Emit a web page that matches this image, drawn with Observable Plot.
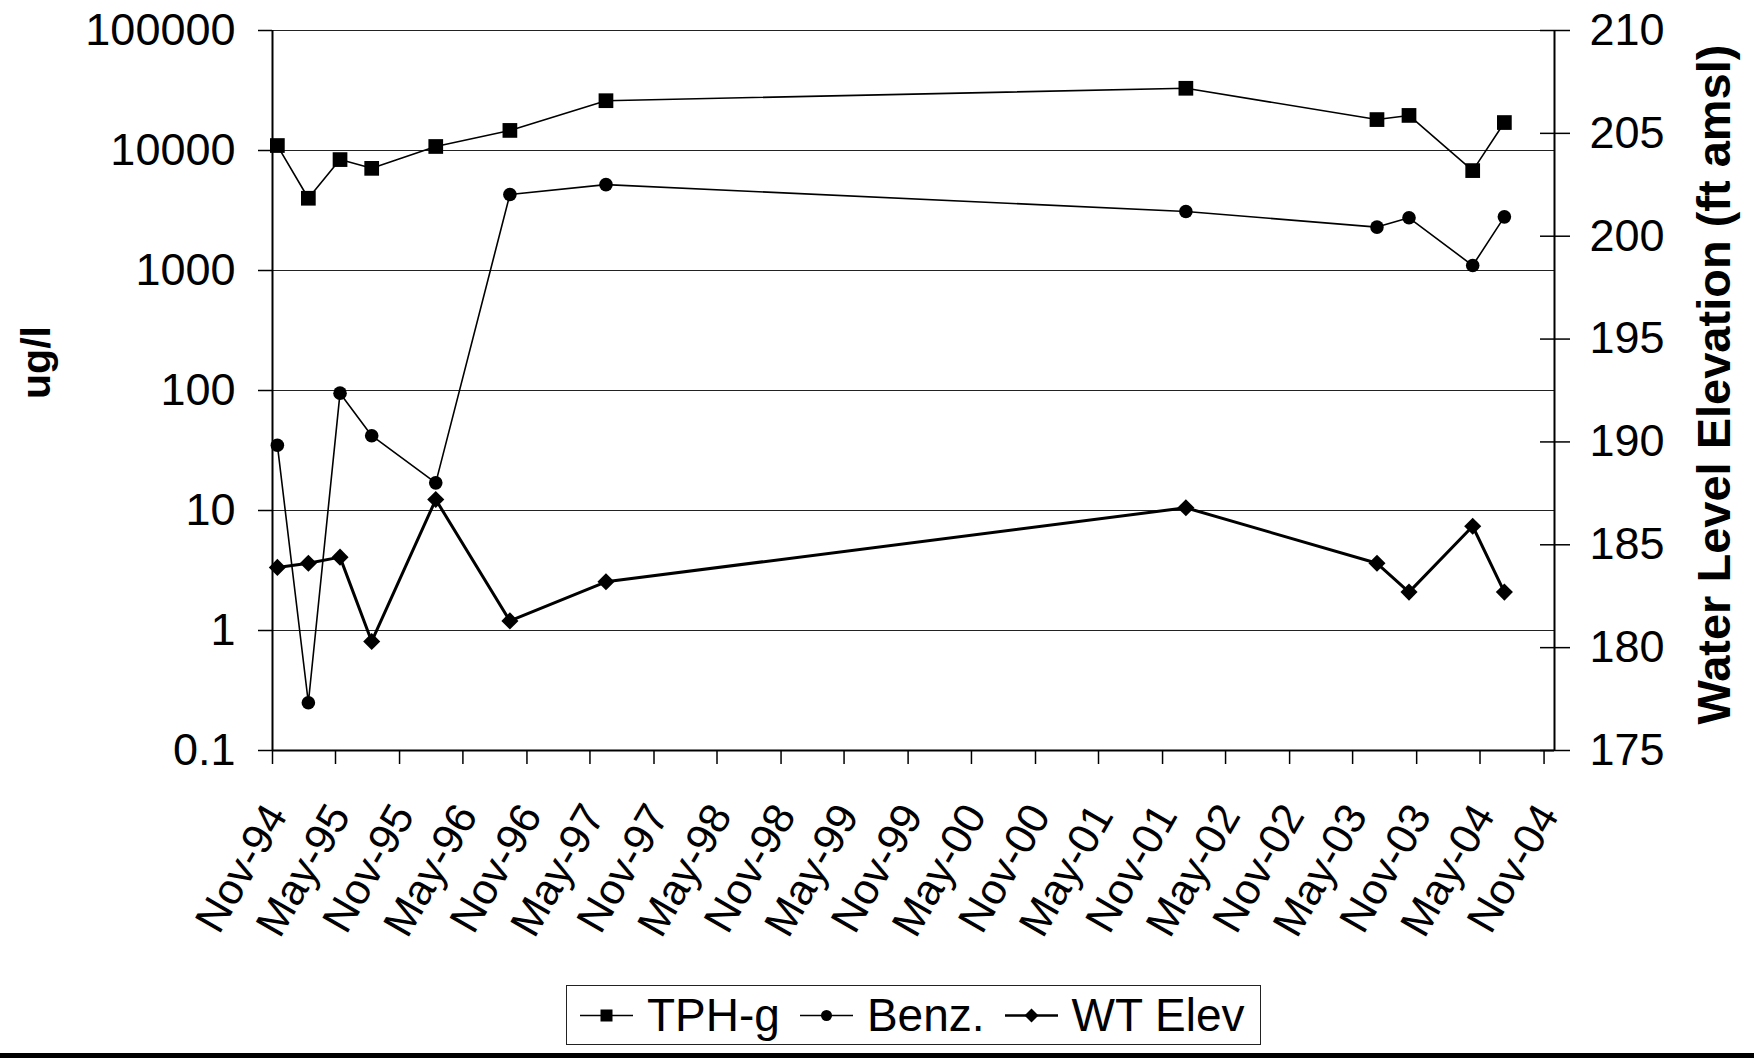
<!DOCTYPE html>
<html>
<head>
<meta charset="utf-8">
<script src="https://cdn.jsdelivr.net/npm/d3@7"></script>
<script src="https://cdn.jsdelivr.net/npm/@observablehq/plot@0.6"></script>
<style>
  html, body { margin: 0; padding: 0; background: #fff; }
  #wrap { position: relative; width: 1754px; height: 1060px; overflow: hidden;
          font-family: "Liberation Sans", Arial, Helvetica, sans-serif; color: #000; }
  .layer { position: absolute; left: 0; top: 0; }
  #legend { position: absolute; left: 566px; top: 985px; width: 695px; height: 60px;
            border: 1.5px solid #222; box-sizing: border-box; display: flex; align-items: center;
            padding-left: 13px; font-size: 46px; line-height: 1; white-space: nowrap; }
  #legend .item { display: flex; align-items: center; margin-right: 20px; flex-shrink: 0; white-space: nowrap; }
  #legend .item svg { margin-right: 14px; display: block; flex-shrink: 0; }
  #rule { position: absolute; left: 0; top: 1053px; width: 1754px; height: 5px; background: #000; }
</style>
</head>
<body>
<div id="wrap">
  <div id="chartA" class="layer"></div>
  <div id="chartB" class="layer"></div>
  <div id="legend"></div>
  <div id="rule"></div>
</div>
<script>
// ---- data ----
const sampleDates = ["1994-11-15", "1995-02-12", "1995-05-14", "1995-08-13", "1996-02-13", "1996-09-13",
                     "1997-06-16", "2002-01-07", "2003-07-10", "2003-10-10", "2004-04-10", "2004-07-10"];
const tphG   = [11000, 4000, 8400, 7100, 10800, 14700, 26000, 33000, 18100, 19600, 6800, 17100];
const benz   = [35, 0.25, 95, 42, 17, 4300, 5200, 3100, 2300, 2750, 1100, 2800];
const wtElev = [183.9, 184.1, 184.4, 180.3, 187.2, 181.3, 183.2, 186.8, 184.1, 182.7, 185.9, 182.7];

const tickDates  = ["1994-11-01", "1995-05-01", "1995-11-01", "1996-05-01", "1996-11-01", "1997-05-01",
                    "1997-11-01", "1998-05-01", "1998-11-01", "1999-05-01", "1999-11-01", "2000-05-01",
                    "2000-11-01", "2001-05-01", "2001-11-01", "2002-05-01", "2002-11-01", "2003-05-01",
                    "2003-11-01", "2004-05-01", "2004-11-01"];
const tickLabels = ["Nov-94", "May-95", "Nov-95", "May-96", "Nov-96", "May-97", "Nov-97", "May-98",
                    "Nov-98", "May-99", "Nov-99", "May-00", "Nov-00", "May-01", "Nov-01", "May-02",
                    "Nov-02", "May-03", "Nov-03", "May-04", "Nov-04"];
const xDomainStr = ["1994-11-01", "2004-12-01"];

const concTicks  = [0.1, 1, 10, 100, 1000, 10000, 100000];
const concLabels = ["0.1", "1", "10", "100", "1000", "10000", "100000"];
const elevTicks  = [175, 180, 185, 190, 195, 200, 205, 210];
const elevDomain = [175, 210];
const concDomain = [0.1, 100000];

const seriesNames = ["TPH-g", "Benz.", "WT Elev"];
const leftTitle  = "ug/l";
const rightTitle = "Water Level Elevation (ft amsl)";

// ---- build tables ----
const parse = d3.utcParse("%Y-%m-%d");
const rows = sampleDates.map((d, i) => ({date: parse(d), tph: tphG[i], benz: benz[i], wt: wtElev[i]}));
const ticks = tickDates.map((d, i) => ({date: parse(d), label: tickLabels[i]}));
const xDomain = xDomainStr.map(parse);

const font = '"Liberation Sans", Arial, Helvetica, sans-serif';
const dims = {width: 1754, height: 960, marginTop: 30, marginRight: 200, marginBottom: 210, marginLeft: 272};
const style = {fontFamily: font, fontSize: "45px", background: "transparent", color: "#000", overflow: "visible"};

const chartA = Plot.plot({
  ...dims,
  style,
  x: {type: "utc", domain: xDomain},
  y: {type: "log", domain: concDomain},
  marks: [
    Plot.ruleY(concTicks, {stroke: "#222", strokeWidth: 1.2}),
    Plot.ruleX(xDomain, {stroke: "#000", strokeWidth: 2}),
    Plot.ruleY([concDomain[0]], {stroke: "#000", strokeWidth: 2}),
    Plot.axisY({ticks: concTicks, tickFormat: d => concLabels[concTicks.indexOf(d)], tickSize: 14,
                tickPadding: 23, fontSize: 45, label: null, strokeWidth: 1.5}),
    Plot.axisX({ticks: ticks.map(t => t.date), tickFormat: () => "", tickSize: 14, label: null, strokeWidth: 1.5}),
    Plot.text(ticks, {x: "date", text: "label", frameAnchor: "bottom", dx: 4, dy: 58, rotate: -60,
                      textAnchor: "end", lineAnchor: "middle", fontSize: 43}),
    Plot.text([leftTitle], {text: d => d, frameAnchor: "left", dx: -236, dy: -28, rotate: -90,
                            textAnchor: "middle", fontWeight: "bold", fontSize: 41}),
    Plot.line(rows, {x: "date", y: "tph", stroke: "#000", strokeWidth: 1.6}),
    Plot.dot(rows, {x: "date", y: "tph", symbol: "square", r: 8.3, fill: "#000", stroke: null}),
    Plot.line(rows, {x: "date", y: "benz", stroke: "#000", strokeWidth: 1.6}),
    Plot.dot(rows, {x: "date", y: "benz", symbol: "circle", r: 6.8, fill: "#000", stroke: null})
  ]
});
document.getElementById("chartA").appendChild(chartA);

const chartB = Plot.plot({
  ...dims,
  style,
  x: {type: "utc", domain: xDomain, axis: null},
  y: {domain: elevDomain},
  marks: [
    Plot.axisY({anchor: "right", ticks: elevTicks, tickSize: 30, dx: -15, tickPadding: 20,
                fontSize: 45, label: null, strokeWidth: 1.5}),
    Plot.text([rightTitle], {text: d => d, frameAnchor: "right", dx: 160, dy: -6, rotate: -90,
                             textAnchor: "middle", fontWeight: "bold", fontSize: 47}),
    Plot.line(rows, {x: "date", y: "wt", stroke: "#000", strokeWidth: 3}),
    Plot.dot(rows, {x: "date", y: "wt", symbol: "diamond2", r: 7.7, fill: "#000", stroke: null})
  ]
});
document.getElementById("chartB").appendChild(chartB);

// ---- legend ----
const glyphs = {
  "TPH-g": '<rect x="20.5" y="4.5" width="12" height="12" fill="#000"/>',
  "Benz.": '<circle cx="26.5" cy="10.5" r="5.5" fill="#000"/>',
  "WT Elev": '<polygon points="26.5,3.5 33.5,10.5 26.5,17.5 19.5,10.5" fill="#000"/>'
};
const legend = document.getElementById("legend");
seriesNames.forEach(name => {
  const item = document.createElement("div");
  item.className = "item";
  item.innerHTML = `<svg width="53" height="21" viewBox="0 0 53 21"><line x1="0" y1="10.5" x2="53" y2="10.5" stroke="#000" stroke-width="${name === "WT Elev" ? 2.5 : 1.6}"/>${glyphs[name]}</svg><span>${name}</span>`;
  legend.appendChild(item);
});
</script>
</body>
</html>
